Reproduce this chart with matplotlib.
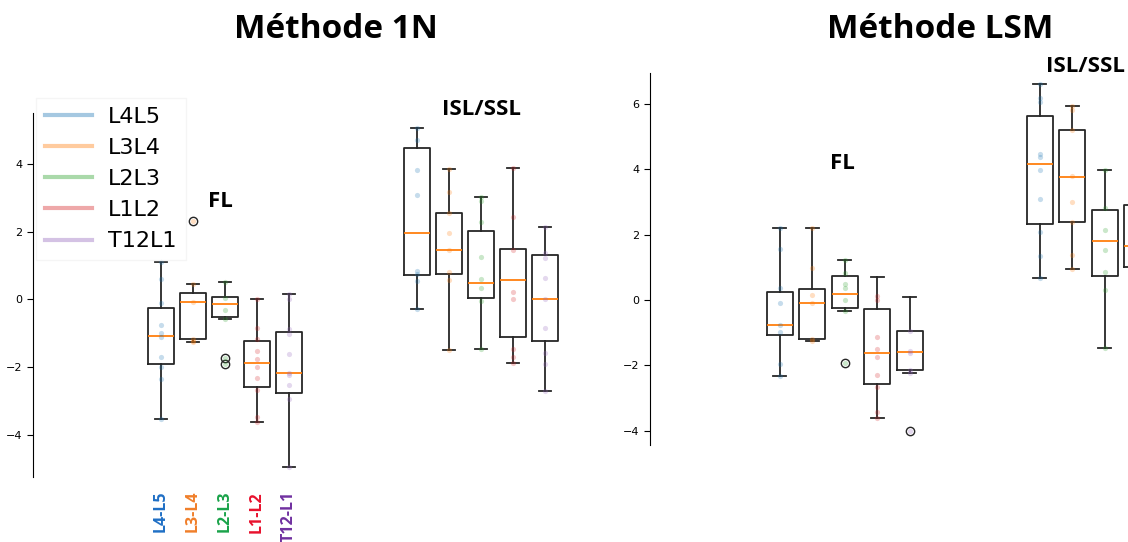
"""Box plots of FL and ISL/SSL values per level, methods 1N and LSM."""

import matplotlib
matplotlib.use("Agg")
import matplotlib.pyplot as plt
from matplotlib.lines import Line2D

levels = ["L4L5", "L3L4", "L2L3", "L1L2", "T12L1"]
tick_labels = ["L4-L5", "L3-L4", "L2-L3", "L1-L2", "T12-L1"]
tick_colors = ["#1f6fc5", "#f07f2a", "#1aa34a", "#e8112d", "#7030a0"]
group_names = ["FL", "ISL/SSL"]

# Methode 1N : 5 FL boxes then 5 ISL/SSL boxes
n1_med = [-1.08, -0.08, -0.13, -1.87, -2.17, 1.96, 1.45, 0.48, 0.56, 0.00]
n1_q1 = [-1.92, -1.17, -0.53, -2.57, -2.75, 0.73, 0.74, 0.03, -1.10, -1.22]
n1_q3 = [-0.26, 0.20, 0.07, -1.24, -0.95, 4.47, 2.54, 2.02, 1.50, 1.31]
n1_lo = [-3.53, -1.26, -0.58, -3.62, -4.94, -0.27, -1.49, -1.46, -1.88, -2.69]
n1_hi = [1.09, 0.46, 0.50, 0.02, 0.15, 5.06, 3.85, 3.03, 3.87, 2.15]
n1_fliers = [[], [2.32], [-1.74, -1.90], [], [], [], [], [], [], []]
n1_dots = [
    [1.09, 0.60, -0.11, -0.75, -1.00, -1.12, -1.69, -1.98, -2.35, -3.53],
    [2.32, 0.46, -0.08, -1.17, -1.24, -1.26],
    [0.50, 0.03, -0.31, -0.58, -1.74, -1.90],
    [0.02, -0.85, -1.16, -1.52, -1.76, -1.98, -2.31, -2.67, -3.46, -3.62],
    [0.15, 0.00, -0.88, -1.03, -1.62, -2.18, -2.23, -2.52, -2.95, -4.94],
    [5.06, 4.71, 3.83, 3.09, 0.84, 0.75, 0.54, -0.27],
    [3.85, 3.16, 2.54, 1.95, 1.45, 0.80, 0.58, -1.49],
    [3.03, 2.89, 2.29, 1.26, 0.60, 0.35, -0.05, -1.46],
    [3.87, 2.43, 1.47, 0.21, 0.00, -1.45, -1.69, -1.88],
    [2.15, 1.38, 1.21, 0.63, 0.00, -0.85, -1.59, -1.90, -2.69],
]

# Methode LSM
lsm_med = [-0.76, -0.08, 0.18, -1.62, -1.59, 4.16, 3.75, 1.82, 1.66, 0.60]
lsm_q1 = [-1.08, -1.20, -0.23, -2.56, -2.15, 2.34, 2.40, 0.74, 1.02, -0.50]
lsm_q3 = [0.24, 0.34, 0.74, -0.28, -0.94, 5.62, 5.20, 2.74, 2.91, 1.90]
lsm_lo = [-2.31, -1.25, -0.32, -3.61, -2.24, 0.67, 0.96, -1.45, -0.50, -2.00]
lsm_hi = [2.20, 2.20, 1.23, 0.71, 0.09, 6.61, 5.92, 3.97, 4.00, 3.00]
lsm_fliers = [[], [], [-1.91], [], [-3.99], [], [], [], [], []]
lsm_dots = [
    [2.20, 1.56, 0.36, -0.10, -0.76, -0.99, -1.95, -2.31],
    [2.20, 0.97, 0.14, -0.08, -1.20, -1.25],
    [1.23, 0.82, 0.50, 0.36, 0.00, -0.32, -1.91],
    [0.11, 0.00, -1.13, -1.49, -1.73, -2.30, -2.66, -3.43, -3.61],
    [-0.94, -1.55, -1.63, -2.15, -2.24, -3.99],
    [6.61, 6.19, 6.04, 4.46, 4.36, 3.97, 3.10, 2.09, 1.35, 0.67],
    [5.92, 5.82, 5.20, 3.78, 3.00, 2.40, 1.38, 0.96],
    [3.97, 2.81, 2.13, 1.53, 0.87, 0.31, -1.45],
    [4.00, 2.90, 1.66, 1.20, -0.50],
    [3.00, 1.90, 0.60, -0.50, -2.00],
]

BOLD = dict(family="Open Sans", weight="bold")
W, H = 1128, 542


def draw_panel(ax, med, q1, q3, lo, hi, fliers, dots):
    positions = [g * 8 + k + 1 for g in range(2) for k in range(5)]
    stats = [
        dict(med=m, q1=a, q3=b, whislo=l, whishi=h, fliers=f)
        for m, a, b, l, h, f in zip(med, q1, q3, lo, hi, fliers)
    ]
    line = dict(color="#262626", linewidth=1.3)
    ax.bxp(
        stats, positions=positions, widths=0.8, manage_ticks=False,
        boxprops=line, whiskerprops=line, capprops=line,
        medianprops=dict(color="C1", linewidth=1.3),
        flierprops=dict(marker="o", markerfacecolor="none",
                        markeredgecolor="#262626", markersize=6),
    )
    for i, (x, vals) in enumerate(zip(positions, dots)):
        ax.scatter([x] * len(vals), vals, color=f"C{i % 5}", alpha=0.25,
                   s=14, linewidths=0, zorder=3)
    for side in ["top", "right", "bottom"]:
        ax.spines[side].set_visible(False)
    ax.set_xlim(-3, 14)
    ax.tick_params(axis="y", labelsize=8, length=4, width=0.8)
    ax.tick_params(axis="x", length=0)
    return positions


fig = plt.figure(figsize=(W / 100, H / 100), dpi=100)

ax1 = fig.add_axes([33 / W, 65 / H, 544 / W, 364 / H])
pos = draw_panel(ax1, n1_med, n1_q1, n1_q3, n1_lo, n1_hi, n1_fliers, n1_dots)
ax1.set_ylim(-5.24, 5.5)
ax1.set_yticks([-4, -2, 0, 2, 4])
ax1.set_xticks(pos[:5])
ax1.set_xticklabels(tick_labels, rotation=90, va="top", fontsize=11.5, **BOLD)
ax1.tick_params(axis="x", pad=10)
for lab, c in zip(ax1.get_xticklabels(), tick_colors):
    lab.set_color(c)
ax1.text(2.85, 2.88, group_names[0], ha="center", va="center", fontsize=16, **BOLD)
ax1.text(11.02, 5.59, group_names[1], ha="center", va="center", fontsize=16,
         clip_on=False, **BOLD)

ax2 = fig.add_axes([650 / W, 97 / H, 552 / W, 372 / H])
draw_panel(ax2, lsm_med, lsm_q1, lsm_q3, lsm_lo, lsm_hi, lsm_fliers, lsm_dots)
ax2.set_ylim(-4.43, 6.94)
ax2.set_yticks([-4, -2, 0, 2, 4, 6])
ax2.set_xticks([])
ax2.text(2.94, 4.17, group_names[0], ha="center", va="center", fontsize=16, **BOLD)
ax2.text(10.42, 7.13, group_names[1], ha="center", va="center", fontsize=16,
         clip_on=False, **BOLD)

fig.text(336 / W, 1 - 29 / H, "Méthode 1N", ha="center", va="center",
         fontsize=24, **BOLD)
fig.text(940 / W, 1 - 29 / H, "Méthode LSM", ha="center", va="center",
         fontsize=24, **BOLD)

handles = [Line2D([], [], color=f"C{i}", alpha=0.4, linewidth=3)
           for i in range(len(levels))]
leg = fig.legend(handles, levels, loc="upper left",
                 bbox_to_anchor=(36 / W, 1 - 98 / H), borderaxespad=0,
                 fontsize=16, handlelength=2.1, handletextpad=0.75,
                 labelspacing=0.5, borderpad=0.4, fancybox=False)
leg.get_frame().set_facecolor("none")
leg.get_frame().set_edgecolor("#f3f3f3")
leg.get_frame().set_linewidth(1.0)

fig.savefig("out.png", dpi=100)
